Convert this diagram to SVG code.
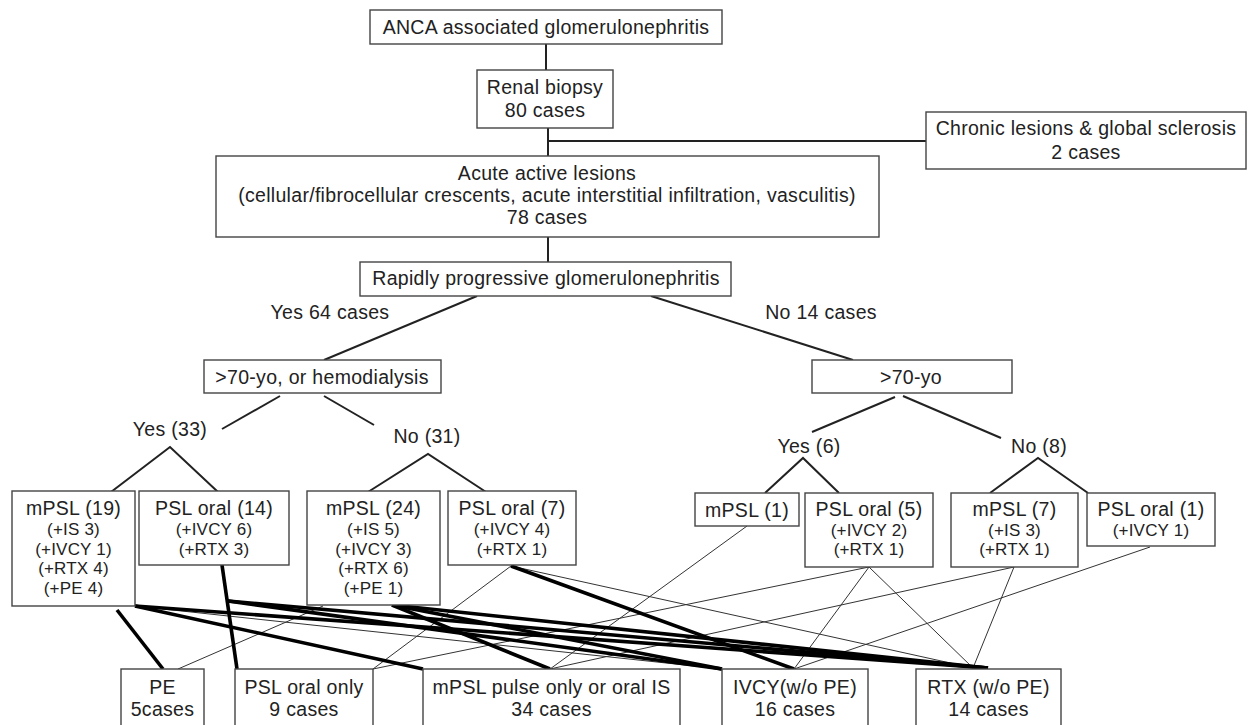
<svg xmlns="http://www.w3.org/2000/svg" width="1248" height="725" viewBox="0 0 1248 725">
<style>
.box{fill:#fff;stroke:#444;stroke-width:1.4}
.t{font-family:"Liberation Sans",Arial,sans-serif;font-size:19.5px;letter-spacing:0.3px;fill:#222;text-anchor:middle}
.s{font-family:"Liberation Sans",Arial,sans-serif;font-size:17px;letter-spacing:0.2px;fill:#222;text-anchor:middle}
.tree{stroke:#222;stroke-width:2;fill:none}
.thick{stroke:#000;stroke-width:3.6;fill:none}
.thin{stroke:#333;stroke-width:1;fill:none}
</style>
<rect width="1248" height="725" fill="#fff"/>
<g id="connectors">
<line class="tree" x1="546" y1="44" x2="546" y2="70"/>
<line class="tree" x1="548" y1="128" x2="548" y2="156"/>
<line class="tree" x1="548" y1="141" x2="926" y2="141"/>
<line class="tree" x1="548" y1="237" x2="548" y2="262"/>
<line class="tree" x1="477" y1="296" x2="324" y2="360"/>
<line class="tree" x1="651" y1="296" x2="853" y2="360"/>
<line class="tree" x1="280" y1="396" x2="222" y2="429"/>
<line class="tree" x1="324" y1="396" x2="374" y2="425"/>
<line class="tree" x1="895" y1="397" x2="812" y2="432"/>
<line class="tree" x1="903" y1="396" x2="1001" y2="438"/>
<polyline class="tree" points="111,492 170,447 218,492"/>
<polyline class="tree" points="368,492 428,454 486,492"/>
<polyline class="tree" points="765,493 803,458 839,493"/>
<polyline class="tree" points="990,493 1038,458 1088,493"/>
<line class="thin" x1="135" y1="606" x2="722" y2="669"/>
<line class="thin" x1="323" y1="606" x2="178" y2="669"/>
<line class="thin" x1="511" y1="566" x2="373" y2="669"/>
<line class="thin" x1="511" y1="566" x2="973" y2="668"/>
<line class="thin" x1="747" y1="526" x2="550" y2="669"/>
<line class="thin" x1="869" y1="567" x2="373" y2="669"/>
<line class="thin" x1="869" y1="567" x2="794" y2="669"/>
<line class="thin" x1="869" y1="567" x2="973" y2="668"/>
<line class="thin" x1="1014" y1="567" x2="550" y2="669"/>
<line class="thin" x1="1014" y1="567" x2="973" y2="668"/>
<line class="thin" x1="1150" y1="547" x2="794" y2="669"/>
<line class="thick" x1="117" y1="610" x2="163" y2="669"/>
<line class="thick" x1="135" y1="606" x2="423" y2="669"/>
<line class="thick" x1="135" y1="606" x2="988" y2="668"/>
<line class="thick" x1="222" y1="565" x2="237" y2="669"/>
<line class="thick" x1="228" y1="601" x2="722" y2="669"/>
<line class="thick" x1="228" y1="601" x2="988" y2="668"/>
<line class="thick" x1="392" y1="605" x2="550" y2="669"/>
<line class="thick" x1="392" y1="605" x2="722" y2="669"/>
<line class="thick" x1="392" y1="605" x2="988" y2="668"/>
<line class="thick" x1="511" y1="566" x2="794" y2="669"/>
</g>
<g id="n-anca"><rect class="box" x="370" y="10" width="352" height="34"/><text class="t" x="546" y="34">ANCA associated glomerulonephritis</text></g>
<g id="n-biopsy"><rect class="box" x="477" y="70" width="136" height="58"/><text class="t" x="545" y="94">Renal biopsy</text><text class="t" x="545" y="117">80 cases</text></g>
<g id="n-chronic"><rect class="box" x="926" y="112" width="320" height="57"/><text class="t" x="1086" y="135">Chronic lesions &amp; global sclerosis</text><text class="t" x="1086" y="159">2 cases</text></g>
<g id="n-acute"><rect class="box" x="216" y="156" width="663" height="81"/><text class="t" x="547" y="180">Acute active lesions</text><text class="t" x="547" y="202">(cellular/fibrocellular crescents, acute interstitial infiltration, vasculitis)</text><text class="t" x="547" y="224">78 cases</text></g>
<g id="n-rpgn"><rect class="box" x="360" y="262" width="371" height="34"/><text class="t" x="546" y="285">Rapidly progressive glomerulonephritis</text></g>
<g id="l-yes64"><text class="t" x="330" y="319">Yes 64 cases</text></g>
<g id="l-no14"><text class="t" x="821" y="319">No 14 cases</text></g>
<g id="n-hd"><rect class="box" x="204" y="360" width="237" height="33"/><text class="t" x="322" y="384">&gt;70-yo, or hemodialysis</text></g>
<g id="n-70"><rect class="box" x="812" y="360" width="200" height="33"/><text class="t" x="911" y="384">&gt;70-yo</text></g>
<g id="l-yes33"><text class="t" x="170" y="436">Yes (33)</text></g>
<g id="l-no31"><text class="t" x="427" y="443">No (31)</text></g>
<g id="l-yes6"><text class="t" x="809" y="453">Yes (6)</text></g>
<g id="l-no8"><text class="t" x="1039" y="453">No (8)</text></g>
<g id="n-mpsl19"><rect class="box" x="12" y="491" width="123" height="115"/><text class="t" x="73.5" y="515">mPSL (19)</text><text class="s" x="73.5" y="535">(+IS 3)</text><text class="s" x="73.5" y="555">(+IVCY 1)</text><text class="s" x="73.5" y="574">(+RTX 4)</text><text class="s" x="73.5" y="594">(+PE 4)</text></g>
<g id="n-psl14"><rect class="box" x="139" y="491" width="150" height="74"/><text class="t" x="214" y="515">PSL oral (14)</text><text class="s" x="214" y="535">(+IVCY 6)</text><text class="s" x="214" y="555">(+RTX 3)</text></g>
<g id="n-mpsl24"><rect class="box" x="307" y="491" width="133" height="114"/><text class="t" x="373.5" y="515">mPSL (24)</text><text class="s" x="373.5" y="535">(+IS 5)</text><text class="s" x="373.5" y="555">(+IVCY 3)</text><text class="s" x="373.5" y="574">(+RTX 6)</text><text class="s" x="373.5" y="594">(+PE 1)</text></g>
<g id="n-psl7"><rect class="box" x="448" y="491" width="128" height="74"/><text class="t" x="512" y="515">PSL oral (7)</text><text class="s" x="512" y="535">(+IVCY 4)</text><text class="s" x="512" y="555">(+RTX 1)</text></g>
<g id="n-mpsl1"><rect class="box" x="695" y="493" width="104" height="33"/><text class="t" x="747" y="517">mPSL (1)</text></g>
<g id="n-psl5"><rect class="box" x="805" y="493" width="128" height="74"/><text class="t" x="869" y="516">PSL oral (5)</text><text class="s" x="869" y="536">(+IVCY 2)</text><text class="s" x="869" y="555">(+RTX 1)</text></g>
<g id="n-mpsl7"><rect class="box" x="951" y="493" width="127" height="74"/><text class="t" x="1014.5" y="516">mPSL (7)</text><text class="s" x="1014.5" y="536">(+IS 3)</text><text class="s" x="1014.5" y="555">(+RTX 1)</text></g>
<g id="n-psl1"><rect class="box" x="1087" y="493" width="128" height="53"/><text class="t" x="1151" y="516">PSL oral (1)</text><text class="s" x="1151" y="536">(+IVCY 1)</text></g>
<g id="n-pe"><rect class="box" x="121" y="669" width="83" height="62"/><text class="t" x="162.5" y="694">PE</text><text class="t" x="162.5" y="716">5cases</text></g>
<g id="n-pslonly"><rect class="box" x="235" y="669" width="138" height="62"/><text class="t" x="304" y="694">PSL oral only</text><text class="t" x="304" y="716">9 cases</text></g>
<g id="n-pulse"><rect class="box" x="423" y="669" width="257" height="62"/><text class="t" x="551.5" y="694">mPSL pulse only or oral IS</text><text class="t" x="551.5" y="716">34 cases</text></g>
<g id="n-ivcy"><rect class="box" x="722" y="669" width="146" height="62"/><text class="t" x="795" y="694">IVCY(w/o PE)</text><text class="t" x="795" y="716">16 cases</text></g>
<g id="n-rtx"><rect class="box" x="916" y="669" width="145" height="62"/><text class="t" x="988.5" y="694">RTX (w/o PE)</text><text class="t" x="988.5" y="716">14 cases</text></g>
</svg>
